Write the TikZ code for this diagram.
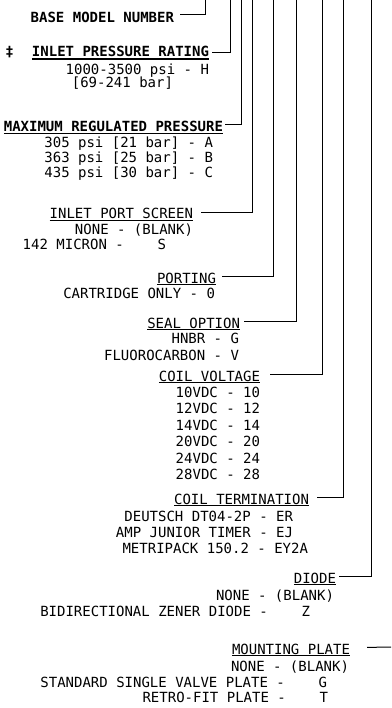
\documentclass[tikz,border=0pt]{standalone}
\usepackage{fontspec}
\newfontfamily\cad{DejaVu Sans Mono}
\begin{document}
\begin{tikzpicture}[x=1pt,y=-1pt,
  lbl/.style={inner sep=0pt,outer sep=0pt,anchor=base east,
    font=\cad\fontsize{14}{16}\selectfont},
  blbl/.style={lbl,font=\cad\bfseries\fontsize{14}{16}\selectfont},
  lead/.style={line width=1pt,black},
  uline/.style={line width=0.9pt,black}]
\useasboundingbox (0,0) rectangle (391,708);
% tops of leader lines
\coordinate (v1) at (205,0);
\coordinate (v2) at (230.5,0);
\coordinate (v3) at (241.5,0);
\coordinate (v4) at (252,0);
\coordinate (v5) at (273,0);
\coordinate (v6) at (296,0);
\coordinate (v7) at (322,0);
\coordinate (v8) at (343,0);
\coordinate (v9) at (371.5,0);
\coordinate (v10) at (391,647);
% base model
\node[blbl] (base) at (174,22.5) {BASE MODEL NUMBER};
% inlet pressure
\node[blbl,anchor=base] (dag) at (9.5,57) {‡};
\node[blbl] (inlet) at (209,57) {INLET PRESSURE RATING};
\node[lbl] (inlet1) at (209,75) {1000-3500 psi - H};
\node[lbl] (inlet2) at (173,88) {[69-241 bar]};
% max regulated pressure
\node[blbl] (maxp) at (223,131.5) {MAXIMUM REGULATED PRESSURE};
\node[lbl] (maxp1) at (213,148) {305 psi [21 bar] - A};
\node[lbl] (maxp2) at (213,163) {363 psi [25 bar] - B};
\node[lbl] (maxp3) at (213,178) {435 psi [30 bar] - C};
% inlet port screen
\node[lbl] (scr) at (193,219) {INLET PORT SCREEN};
\node[lbl] (scr1) at (193,235) {NONE - (BLANK)};
\node[lbl] (scr2) at (166,250) {142 MICRON -~~~~S};
% porting
\node[lbl] (port) at (216,283) {PORTING};
\node[lbl] (port1) at (215,298) {CARTRIDGE ONLY - 0};
% seal option
\node[lbl] (seal) at (240,328) {SEAL OPTION};
\node[lbl] (seal1) at (239,343) {HNBR - G};
\node[lbl] (seal2) at (239,360) {FLUOROCARBON - V};
% coil voltage
\node[lbl] (cv) at (260,381) {COIL VOLTAGE};
\node[lbl] (cv1) at (260,397) {10VDC - 10};
\node[lbl] (cv2) at (260,413) {12VDC - 12};
\node[lbl] (cv3) at (260,430) {14VDC - 14};
\node[lbl] (cv4) at (260,446) {20VDC - 20};
\node[lbl] (cv5) at (260,463) {24VDC - 24};
\node[lbl] (cv6) at (260,479) {28VDC - 28};
% coil termination
\node[lbl] (ct) at (309,504) {COIL TERMINATION};
\node[lbl] (ct1) at (293,521) {DEUTSCH DT04-2P - ER};
\node[lbl] (ct2) at (293,537) {AMP JUNIOR TIMER - EJ};
\node[lbl] (ct3) at (308,553) {METRIPACK 150.2 - EY2A};
% diode
\node[lbl] (di) at (336,583) {DIODE};
\node[lbl] (di1) at (334,600) {NONE - (BLANK)};
\node[lbl] (di2) at (310,616) {BIDIRECTIONAL ZENER DIODE -~~~~Z};
% mounting plate
\node[lbl] (mp) at (350,654) {MOUNTING PLATE};
\node[lbl] (mp1) at (349,671) {NONE - (BLANK)};
\node[lbl] (mp2) at (327,687) {STANDARD SINGLE VALVE PLATE -~~~~G};
\node[lbl] (mp3) at (328,702) {RETRO-FIT PLATE -~~~~T};
% underlines
\foreach \n in {inlet,maxp}
  \draw[uline,line width=1.2pt] ([yshift=-2pt]\n.base west) -- ([yshift=-2pt]\n.base east);
\foreach \n in {scr,port,seal,cv,ct,di,mp}
  \draw[uline] ([yshift=-1.5pt]\n.base west) -- ([yshift=-1.5pt]\n.base east);
% leaders
\draw[lead] ([xshift=6pt,yshift=2.5pt]base.east) -| (v1);
\draw[lead] ([xshift=3pt,yshift=-1pt]inlet.east) -| (v2);
\draw[lead] ([xshift=2pt,yshift=1.5pt]maxp.east) -| (v3);
\draw[lead] ([xshift=8pt,yshift=1.5pt]scr.east) -| (v4);
\draw[lead] ([xshift=6pt,yshift=1.5pt]port.east) -| (v5);
\draw[lead] ([xshift=4pt,yshift=1.5pt]seal.east) -| (v6);
\draw[lead] ([xshift=10pt,yshift=1pt]cv.east) -| (v7);
\draw[lead] ([xshift=8pt,yshift=1.5pt]ct.east) -| (v8);
\draw[lead] ([xshift=3pt,yshift=1pt]di.east) -| (v9);
\draw[lead] ([xshift=17pt,yshift=1.5pt]mp.east) -- (v10);
\end{tikzpicture}
\end{document}
